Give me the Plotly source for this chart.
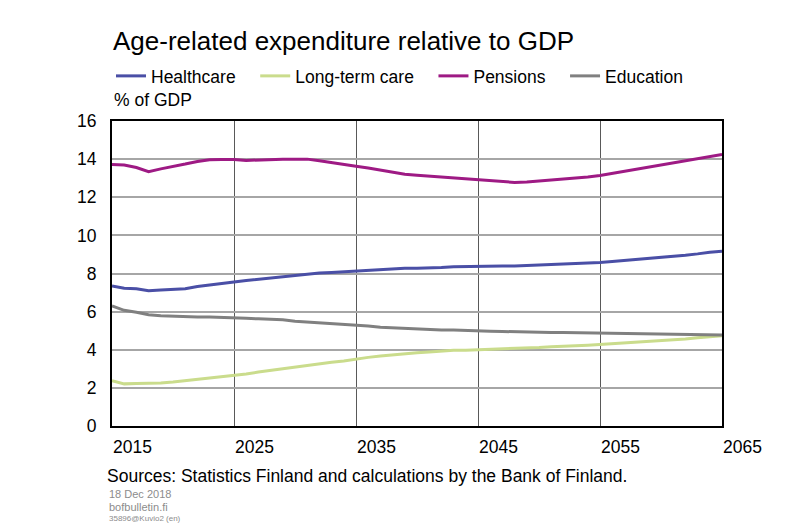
import plotly.graph_objects as go

# years 2015..2065
years = list(range(2015, 2066))

healthcare = [7.35, 7.23, 7.20, 7.09, 7.13, 7.16, 7.20, 7.32, 7.41, 7.48,
              7.55, 7.63, 7.70, 7.77, 7.83, 7.88, 7.95, 8.02, 8.05, 8.09,
              8.12, 8.17, 8.21, 8.24, 8.27, 8.28, 8.29, 8.31, 8.35, 8.37,
              8.38, 8.38, 8.40, 8.40, 8.42, 8.45, 8.49, 8.50, 8.52, 8.54,
              8.58, 8.63, 8.68, 8.73, 8.79, 8.84, 8.89, 8.96, 9.03, 9.12, 9.17]

long_term_care = [2.37, 2.21, 2.23, 2.24, 2.26, 2.31, 2.38, 2.45, 2.52, 2.57,
                  2.64, 2.73, 2.83, 2.92, 2.99, 3.06, 3.18, 3.25, 3.34, 3.41,
                  3.51, 3.60, 3.67, 3.74, 3.79, 3.84, 3.88, 3.93, 3.97, 3.98,
                  4.00, 4.03, 4.05, 4.09, 4.10, 4.12, 4.16, 4.17, 4.21, 4.24,
                  4.28, 4.31, 4.35, 4.38, 4.42, 4.47, 4.52, 4.57, 4.63, 4.68, 4.73]

pensions = [13.72, 13.69, 13.56, 13.34, 13.49, 13.60, 13.74, 13.88, 13.97, 13.98,
            13.98, 13.93, 13.96, 13.98, 14.00, 14.00, 14.00, 13.91, 13.83, 13.72,
            13.63, 13.53, 13.42, 13.30, 13.21, 13.16, 13.11, 13.06, 13.00, 12.95,
            12.90, 12.85, 12.81, 12.78, 12.80, 12.85, 12.90, 12.97, 13.02, 13.06,
            13.14, 13.25, 13.35, 13.46, 13.58, 13.69, 13.81, 13.93, 14.05, 14.16, 14.24]

education = [6.30, 6.07, 5.97, 5.84, 5.79, 5.76, 5.72, 5.72, 5.72, 5.70,
             5.70, 5.65, 5.62, 5.60, 5.57, 5.50, 5.46, 5.43, 5.39, 5.34,
             5.29, 5.25, 5.18, 5.15, 5.11, 5.09, 5.06, 5.04, 5.04, 5.01,
             4.99, 4.97, 4.96, 4.94, 4.94, 4.92, 4.90, 4.90, 4.89, 4.89,
             4.87, 4.87, 4.85, 4.83, 4.83, 4.82, 4.82, 4.80, 4.78, 4.78, 4.78]

series = [
    ("Healthcare", healthcare, "#4a4fa6"),
    ("Long-term care", long_term_care, "#cadc8c"),
    ("Pensions", pensions, "#9e1a84"),
    ("Education", education, "#808080"),
]

FONT = "Arial, Liberation Sans, sans-serif"
PAD = "\u00a0" * 3  # widen the gap between legend entries

# page has an 8px body margin, so the figure is 8px smaller each way
W, H = 792, 515
PH = 305  # plot height in px
PW = 610

fig = go.Figure()
for name, vals, col in series:
    fig.add_trace(go.Scatter(x=years, y=vals, name=name + PAD, mode="lines",
                             line=dict(color=col, width=3)))

fig.update_layout(
    width=W, height=H,
    margin=dict(l=104, r=78, t=113, b=97),
    paper_bgcolor="white", plot_bgcolor="white",
    font=dict(family=FONT, size=17.5, color="black"),
    title=dict(text="Age-related expenditure relative to GDP", x=105/W, xanchor="left",
               y=1 - 33/H, yanchor="middle", font=dict(size=26, color="black")),
    legend=dict(orientation="h", x=-1/PW, y=1 + 63/PH, xanchor="left", yanchor="top",
                font=dict(size=17.5), itemwidth=30, bgcolor="rgba(0,0,0,0)"),
    showlegend=True,
)

fig.update_xaxes(range=[2015, 2065], tickvals=[2015, 2025, 2035, 2045, 2055, 2065],
                 showgrid=True, gridcolor="#595959", gridwidth=1,
                 showline=True, linecolor="black", linewidth=2, mirror=True,
                 ticks="", ticklabelposition="outside right", ticklabelstandoff=4,
                 zeroline=False, tickfont=dict(size=17.5))
fig.update_yaxes(range=[0, 16], dtick=2, showgrid=True, gridcolor="#a6a6a6", gridwidth=2,
                 showline=True, linecolor="black", linewidth=2, mirror=True,
                 ticks="", ticklabelstandoff=10, zeroline=False, tickfont=dict(size=17.5))

fig.add_annotation(text="% of GDP", xref="paper", yref="paper", x=0, y=1 + 21/PH,
                   xanchor="left", yanchor="middle", showarrow=False, font=dict(size=17.5))
fig.add_annotation(text="Sources: Statistics Finland and calculations by the Bank of Finland.",
                   xref="paper", yref="paper", x=-7/PW, y=-50/PH, xanchor="left",
                   yanchor="middle", showarrow=False, font=dict(size=17.5))
fig.add_annotation(text="18 Dec 2018", xref="paper", yref="paper", x=-5/PW, y=-68/PH,
                   xanchor="left", yanchor="middle", showarrow=False,
                   font=dict(size=11, color="#8c8c8c"))
fig.add_annotation(text="bofbulletin.fi", xref="paper", yref="paper", x=-5/PW, y=-81/PH,
                   xanchor="left", yanchor="middle", showarrow=False,
                   font=dict(size=11, color="#8c8c8c"))
fig.add_annotation(text="35896@Kuvio2 (en)", xref="paper", yref="paper", x=-5/PW, y=-92/PH,
                   xanchor="left", yanchor="middle", showarrow=False,
                   font=dict(size=8, color="#8c8c8c"))

fig.write_html("out.html")
